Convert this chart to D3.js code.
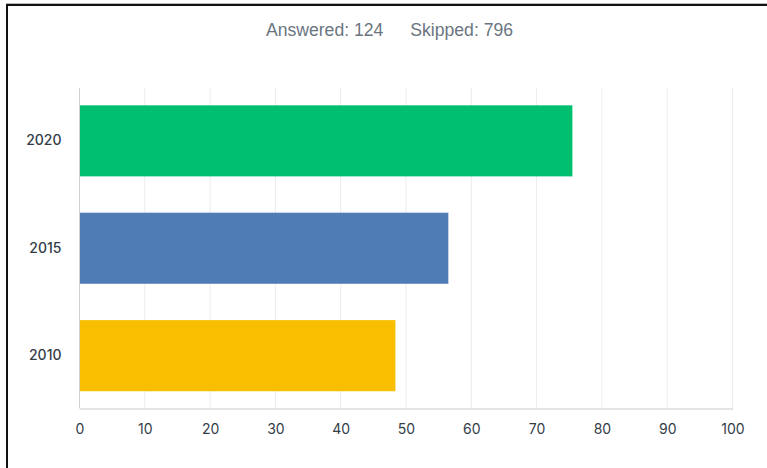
<!DOCTYPE html>
<html>
<head>
<meta charset="utf-8">
<script src="https://cdn.jsdelivr.net/npm/d3@7"></script>
<style>
html,body{margin:0;padding:0;background:#fff;}
svg{display:block;}
</style>
</head>
<body>
<svg id="chart" width="767" height="468"></svg>
<script>
const categories = ["2020", "2015", "2010"];
const values = [75.5, 56.5, 48.4];
const colors = ["#00bf6f", "#507cb6", "#f9be00"];
const xTicks = [0, 10, 20, 30, 40, 50, 60, 70, 80, 90, 100];
const answered = 124;
const skipped = 796;

const svg = d3.select("#chart");
const W = 767, H = 468;
const m = {left: 79.5, right: 767 - 732.5, top: 88, bottom: 468 - 408.5};

// frame
svg.append("line").attr("x1", 6).attr("x2", W).attr("y1", 3.5).attr("y2", 3.5)
  .attr("stroke", "#bbb").attr("stroke-width", 1);
svg.append("line").attr("x1", 6).attr("x2", W).attr("y1", 5).attr("y2", 5)
  .attr("stroke", "#111").attr("stroke-width", 2);
svg.append("line").attr("x1", 7).attr("x2", 7).attr("y1", 4).attr("y2", H)
  .attr("stroke", "#111").attr("stroke-width", 2);

// title
const t = svg.append("text").attr("x", 389.5).attr("y", 36)
  .attr("text-anchor", "middle")
  .attr("font-family", "'Liberation Sans', Arial, sans-serif")
  .attr("font-size", 17.6).attr("fill", "#6b7580");
t.append("tspan").text("Answered: " + answered);
t.append("tspan").attr("dx", 27).text("Skipped: " + skipped);

const x = d3.scaleLinear().domain([0, 100]).range([m.left, W - m.right]);
const y = d3.scaleBand().domain(categories).range([m.top, H - m.bottom])
  .paddingInner(0.336).paddingOuter(0.16);

// gridlines
svg.append("g").selectAll("line").data(xTicks.slice(1)).join("line")
  .attr("x1", d => x(d)).attr("x2", d => x(d))
  .attr("y1", m.top).attr("y2", H - m.bottom)
  .attr("stroke", "#ececec").attr("stroke-width", 1);

// bars
svg.append("g").selectAll("rect").data(categories).join("rect")
  .attr("x", x(0))
  .attr("y", d => y(d))
  .attr("width", (d, i) => x(values[i]) - x(0))
  .attr("height", y.bandwidth())
  .attr("fill", (d, i) => colors[i])
  .attr("stroke", "rgba(255,255,255,0.25)")
  .attr("stroke-width", 1);

// y axis line
svg.append("line").attr("x1", x(0)).attr("x2", x(0))
  .attr("y1", m.top).attr("y2", H - m.bottom)
  .attr("stroke", "#d0d0d0");

// x axis
const xAxis = svg.append("g").attr("transform", `translate(0,${H - m.bottom})`)
  .call(d3.axisBottom(x).tickValues(xTicks).tickSize(0).tickPadding(16));
xAxis.select(".domain").attr("stroke", "#c8c8c8");
xAxis.selectAll("text").attr("font-family", "Inter, sans-serif")
  .attr("font-size", 14).attr("fill", "#333d47");

// y axis labels
const yAxis = svg.append("g").attr("transform", `translate(${x(0)},0)`)
  .call(d3.axisLeft(y).tickSize(0).tickPadding(18));
yAxis.select(".domain").remove();
yAxis.selectAll("text").attr("font-family", "Inter, sans-serif")
  .attr("font-size", 14).attr("font-weight", 500).attr("fill", "#333d47");
</script>
</body>
</html>
